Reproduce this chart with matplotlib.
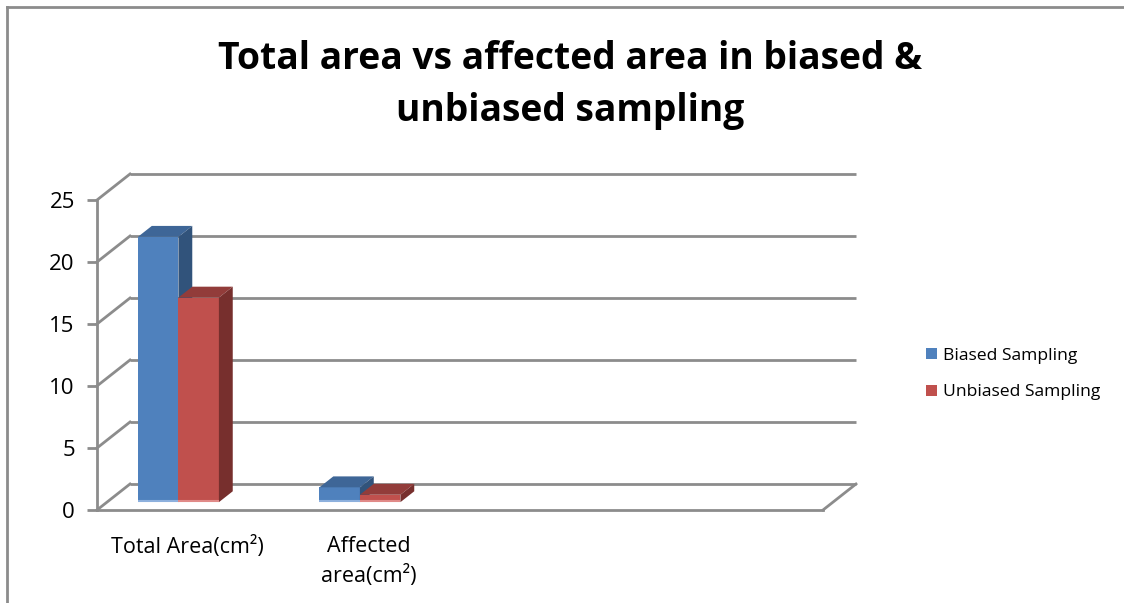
import matplotlib
matplotlib.use("Agg")
import matplotlib.pyplot as plt
from matplotlib.patches import Polygon, Patch
import numpy as np

# ---- data ----
categories = ["Total Area(cm²)", "Affected\narea(cm²)", "", ""]
series_names = ["Biased Sampling", "Unbiased Sampling"]
biased = [21.4, 1.2, 0, 0]
unbiased = [16.5, 0.6, 0, 0]
yticks = [0, 5, 10, 15, 20, 25]
title = "Total area vs affected area in biased &\nunbiased sampling"

front_cols = ["#4F81BD", "#C0504D"]
top_cols = ["#3E6697", "#923C3A"]
side_cols = ["#31537B", "#772F2D"]
base_cols = ["#8DB0DD", "#E08A88"]
grid_col = "#8C8C8C"

plt.rcParams['font.family'] = ['Open Sans', 'DejaVu Sans']

W, H = 1124, 603
fig = plt.figure(figsize=(W / 100, H / 100), dpi=100)

# front plane of the plot: x 97..823 px, y(0)=510 px, y(25)=200 px (from top)
x0, x1 = 97, 823
yb, yt = 510, 200
ax = fig.add_axes([x0 / W, (H - yb) / H, (x1 - x0) / W, (yb - yt) / H])
ncat = len(categories)
ax.set_xlim(-0.5, ncat - 0.5)
ax.set_ylim(0, 25)

px_per_cat = (x1 - x0) / ncat
px_per_val = (yb - yt) / 25.0
DX = 33 / px_per_cat      # depth shift in category units
DY = 26 / px_per_val      # depth shift in value units

for s in ["top", "right"]:
    ax.spines[s].set_visible(False)
for s in ["left", "bottom"]:
    ax.spines[s].set_color(grid_col)
    ax.spines[s].set_linewidth(2)
ax.set_yticks(yticks)
ax.set_yticklabels([str(t) for t in yticks], fontsize=16)
ax.tick_params(axis="y", length=7, width=2, color=grid_col, pad=9)
ax.set_xticks(range(ncat))
ax.set_xticklabels(categories, fontsize=15.5, linespacing=1.45)
ax.tick_params(axis="x", length=0, pad=19)
ax.patch.set_alpha(0)

xl, xr = -0.5, ncat - 0.5
# back wall gridlines and left wall diagonals
for v in yticks:
    ax.plot([xl + DX, xr + DX], [v + DY, v + DY], color=grid_col, lw=2,
            clip_on=False, zorder=1, solid_capstyle="butt")
    ax.plot([xl, xl + DX], [v, v + DY], color=grid_col, lw=2,
            clip_on=False, zorder=1)
# floor right edge
ax.plot([xr, xr + DX], [0, DY], color=grid_col, lw=2, clip_on=False, zorder=1)

# bars
off = -0.329
w = 0.223
d0, d1 = 0.30, 0.72
z = 3
for i in range(ncat):
    for s, vals in enumerate([biased, unbiased]):
        v = vals[i]
        if v <= 0:
            continue
        left = i + off + s * w
        fx = left + d0 * DX
        fy = d0 * DY
        ax.bar(fx, v, width=w, bottom=fy, align="edge", color=front_cols[s],
               linewidth=0, clip_on=False, zorder=z)
        ddx = (d1 - d0) * DX
        ddy = (d1 - d0) * DY
        top = Polygon([(fx, fy + v), (fx + w, fy + v), (fx + w + ddx, fy + v + ddy),
                       (fx + ddx, fy + v + ddy)], closed=True, facecolor=top_cols[s],
                      edgecolor="none", clip_on=False, zorder=z)
        ax.add_patch(top)
        side = Polygon([(fx + w, fy), (fx + w + ddx, fy + ddy), (fx + w + ddx, fy + v + ddy),
                        (fx + w, fy + v)], closed=True, facecolor=side_cols[s],
                       edgecolor="none", clip_on=False, zorder=z)
        ax.add_patch(side)
        ax.plot([fx, fx + w], [fy + 0.08, fy + 0.08], color=base_cols[s], lw=1.5,
                clip_on=False, zorder=z + 0.1, solid_capstyle="butt")
        z += 1

# title
fig.text(570 / W, 1 - 85 / H, title, ha="center", va="center", fontsize=26.8,
         fontweight="bold", linespacing=1.45)

# legend
handles = [Patch(facecolor=c, edgecolor="none") for c in front_cols]
fig.legend(handles, series_names, loc="center left",
           bbox_to_anchor=(910 / W, 1 - 374 / H), frameon=False, fontsize=12.6,
           handlelength=0.65, handleheight=0.65, handletextpad=0.35, labelspacing=1.2)

# outer border
border = fig.add_axes([7 / W, -0.01, 1.02, 1 - 7 / H + 0.01])
border.set_xticks([]); border.set_yticks([])
border.patch.set_alpha(0)
for s in ["right", "bottom"]:
    border.spines[s].set_visible(False)
for s in ["left", "top"]:
    border.spines[s].set_color("#8C8C8C")
    border.spines[s].set_linewidth(2)
border.set_zorder(-1)

fig.savefig("out.png", dpi=100)
